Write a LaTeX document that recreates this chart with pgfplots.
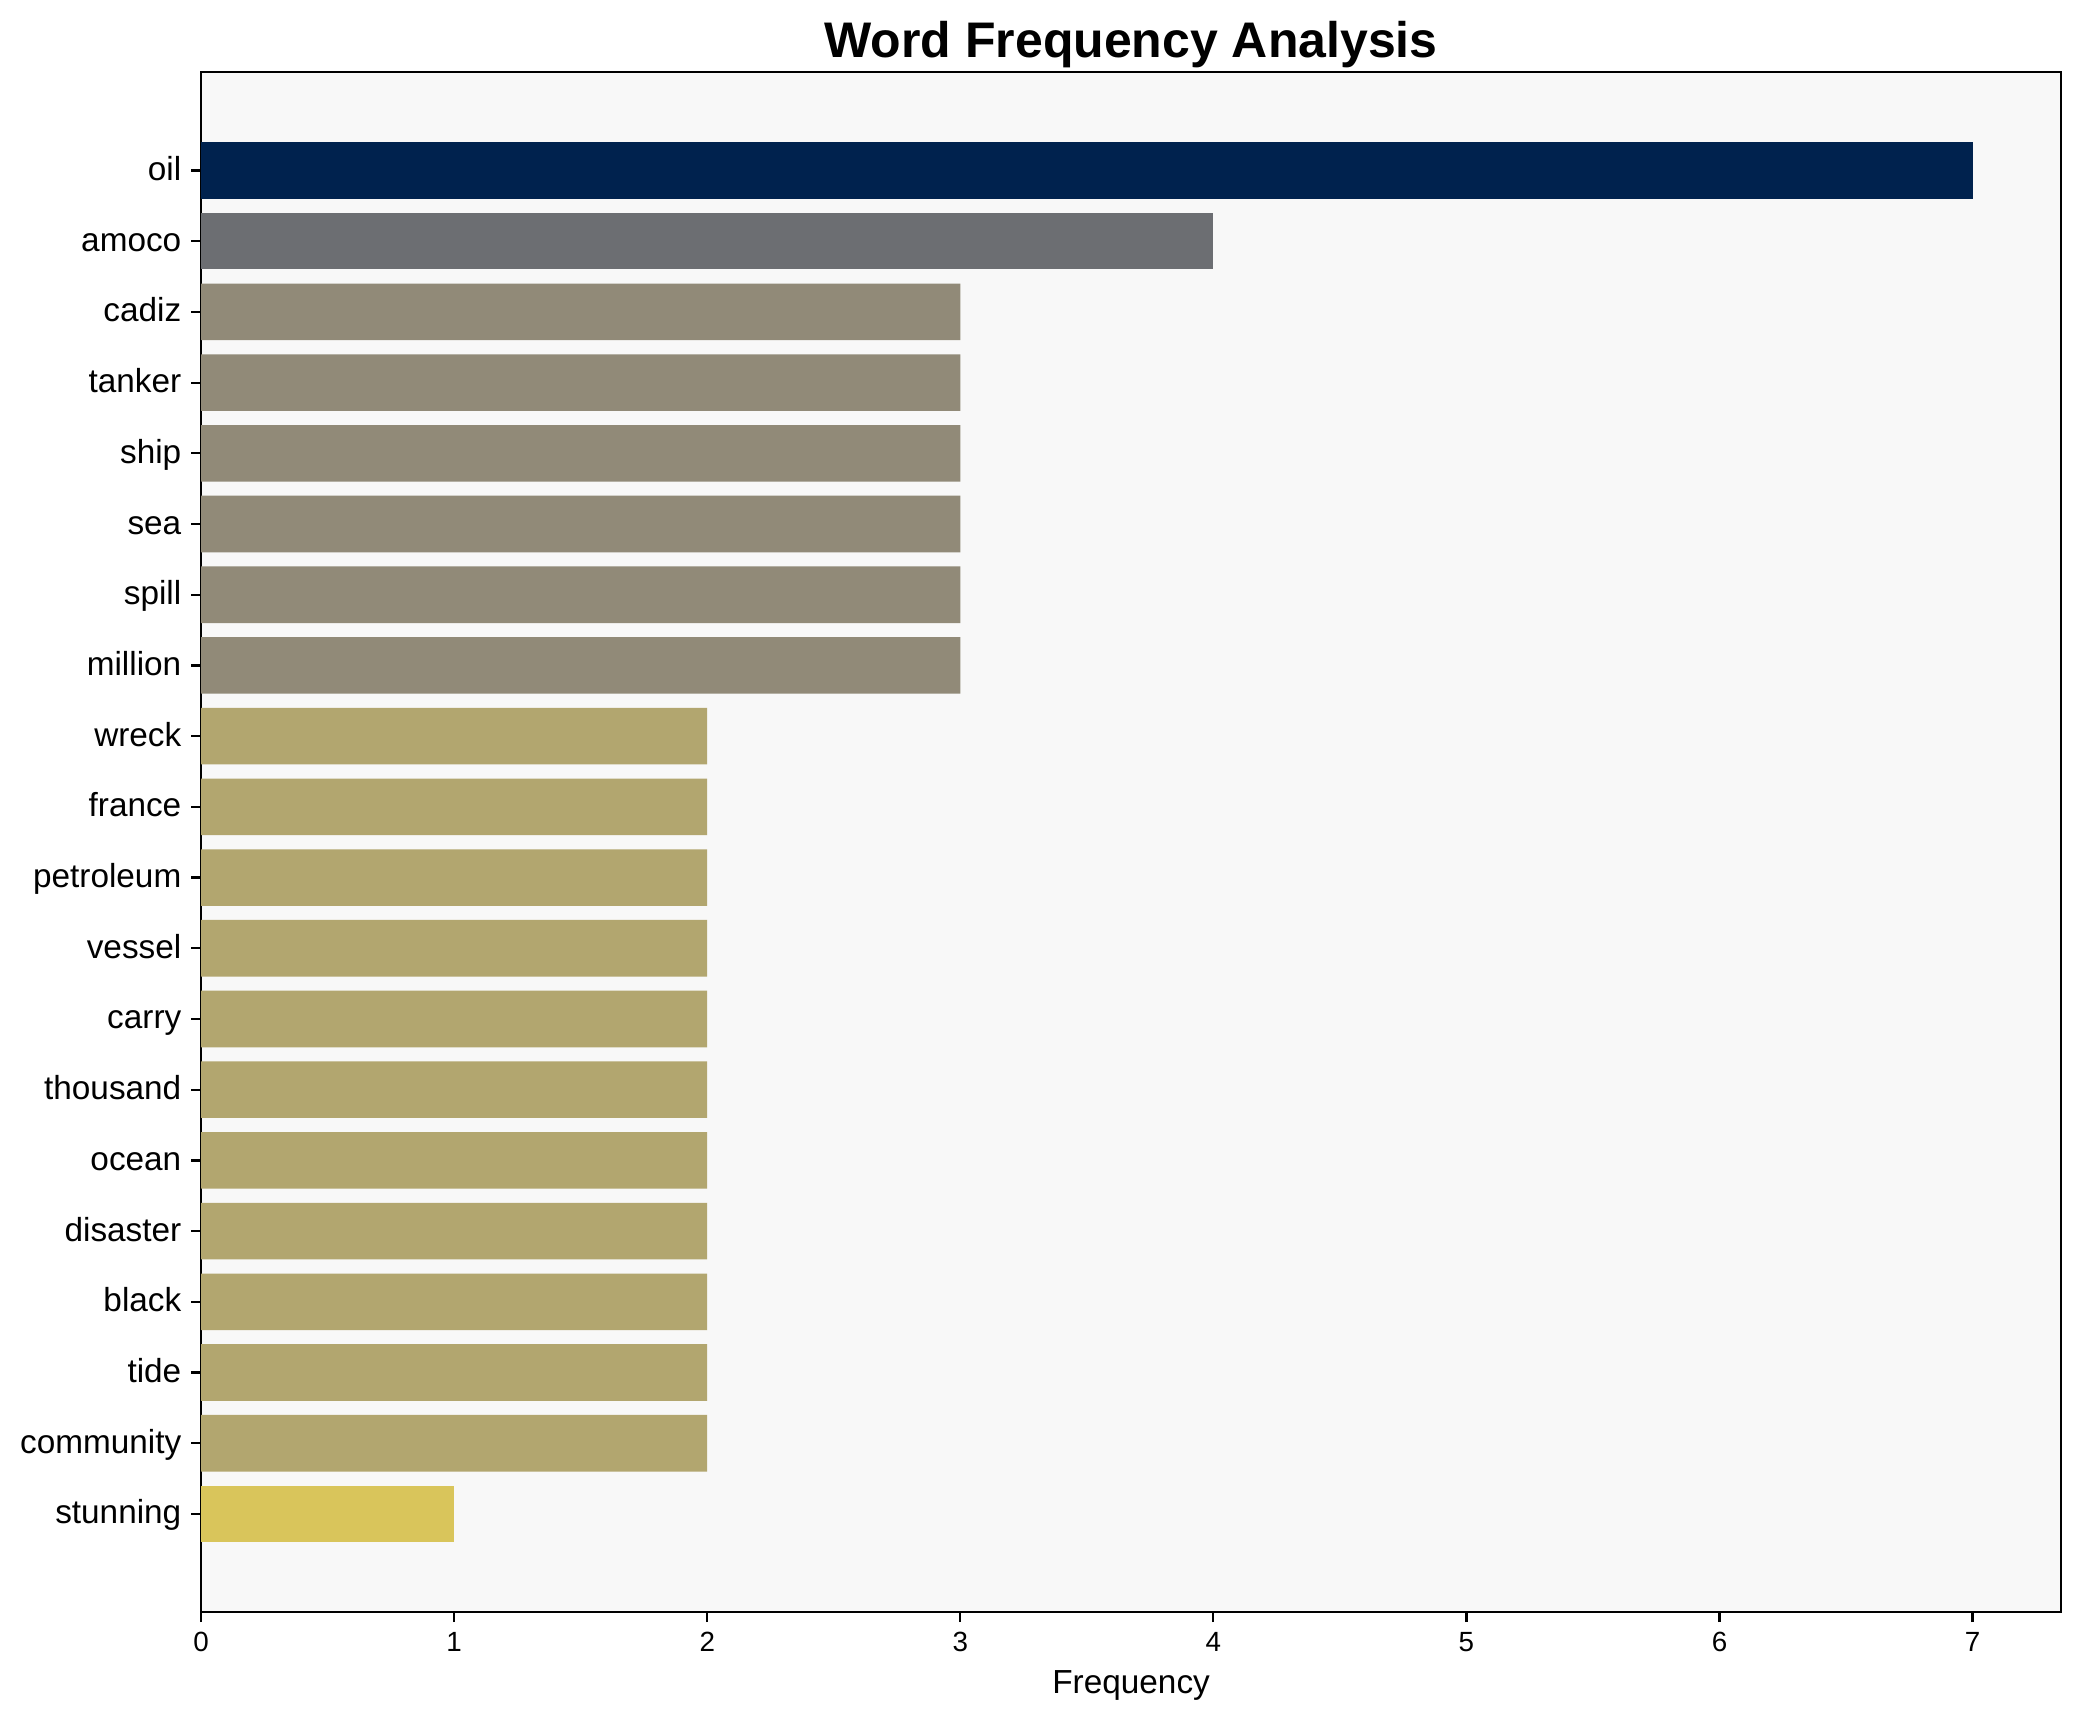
\documentclass[border=0pt]{standalone}
\usepackage{pgfplots}
\pgfplotsset{compat=1.18}
\usepackage{fontspec}
\setmainfont{Liberation Sans}
\usetikzlibrary{calc}
\definecolor{cOil}{HTML}{00224E}
\definecolor{cFour}{HTML}{6C6E72}
\definecolor{cThree}{HTML}{918A78}
\definecolor{cTwo}{HTML}{B2A66F}
\definecolor{cOne}{HTML}{D9C55B}
\definecolor{bgc}{HTML}{F8F8F8}

\begin{document}
\begin{tikzpicture}
\begin{axis}[
    name=ax,
    scale only axis,
    width=669.6pt, height=554.4pt,
    xmin=0, xmax=7.35,
    ymin=-1.39, ymax=20.39,
    y dir=reverse,
    axis background/.style={fill=bgc},
    axis line style={line width=0.8pt},
    tick align=outside,
    major tick length=3.6pt,
    tick style={black, line width=0.8pt},
    xtick pos=bottom, ytick pos=left,
    xtick={0,...,7},
    ytick={0,...,19},
    yticklabels={oil,amoco,cadiz,tanker,ship,sea,spill,million,wreck,france,petroleum,vessel,carry,thousand,ocean,disaster,black,tide,community,stunning},
    /pgf/number format/assume math mode=true,
    yticklabel style={font=\fontsize{12}{14}\selectfont, text height=0.72em, text depth=0pt},
    xticklabel style={font=\fontsize{10}{12}\selectfont},
    xlabel={Frequency},
    xlabel style={font=\fontsize{12}{14}\selectfont},
    title={Word Frequency Analysis},
    every axis title/.style={at={(0.5,1)}, anchor=base, yshift=5.4pt,
        font=\fontsize{18}{21}\selectfont\bfseries},
]
% frequency 7
\addplot[xbar, bar width=0.8, bar shift=0pt, fill=cOil, draw=none]
    coordinates {(7,0)};
% frequency 4
\addplot[xbar, bar width=0.8, bar shift=0pt, fill=cFour, draw=none]
    coordinates {(4,1)};
% frequency 3
\addplot[xbar, bar width=0.8, bar shift=0pt, fill=cThree, draw=none]
    coordinates {(3,2)(3,3)(3,4)(3,5)(3,6)(3,7)};
% frequency 2
\addplot[xbar, bar width=0.8, bar shift=0pt, fill=cTwo, draw=none]
    coordinates {(2,8)(2,9)(2,10)(2,11)(2,12)(2,13)(2,14)(2,15)(2,16)(2,17)(2,18)};
% frequency 1
\addplot[xbar, bar width=0.8, bar shift=0pt, fill=cOne, draw=none]
    coordinates {(1,19)};
\end{axis}
\pgfresetboundingbox
\path ($(ax.south west)+(-72.4pt,-39.6pt)$) rectangle ($(ax.north east)+(6.8pt,26pt)$);
\end{tikzpicture}
\end{document}
